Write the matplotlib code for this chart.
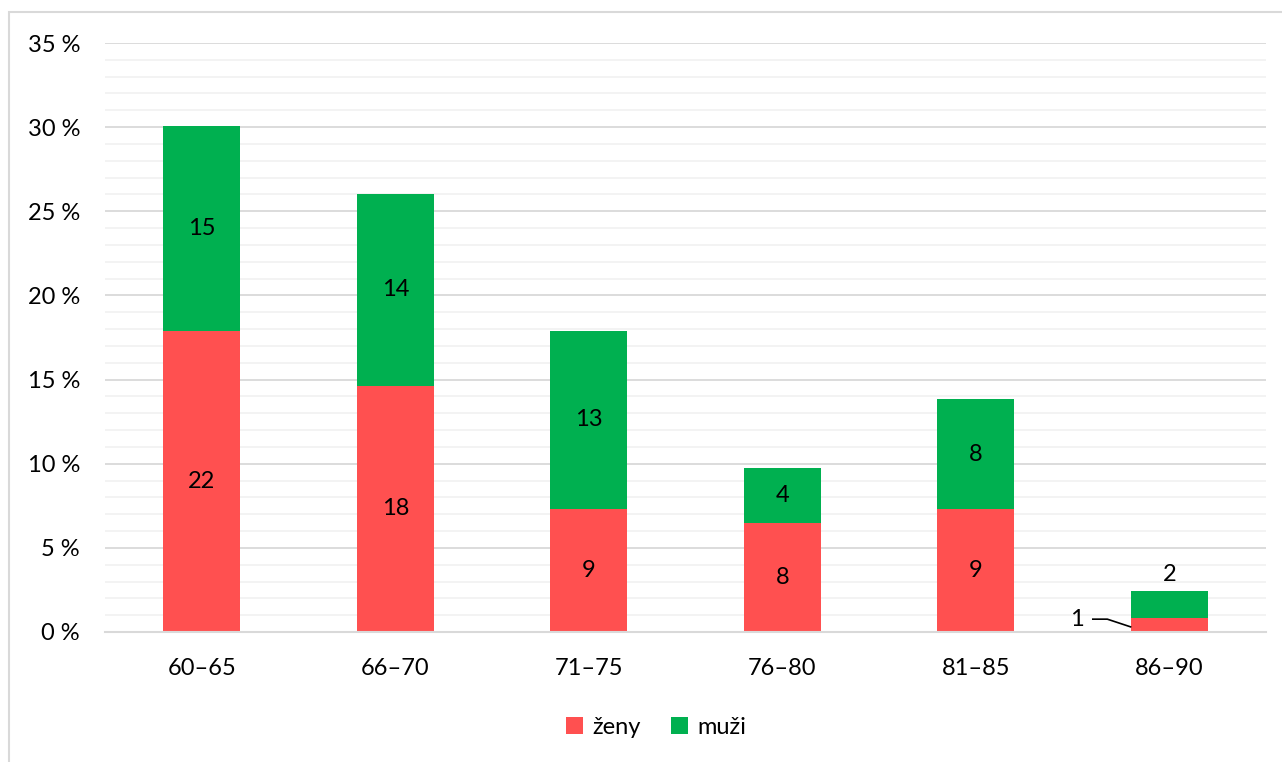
import matplotlib
matplotlib.use("Agg")
import matplotlib.pyplot as plt
from matplotlib.ticker import MultipleLocator, FuncFormatter
from matplotlib.patches import Rectangle
import numpy as np

plt.rcParams['font.family'] = ['Lato', 'DejaVu Sans']

categories = ["60–65", "66–70", "71–75", "76–80", "81–85", "86–90"]
zeny = [22, 18, 9, 8, 9, 1]
muzi = [15, 14, 13, 4, 8, 2]
series_names = ["ženy", "muži"]

total = sum(zeny) + sum(muzi)
zeny_pct = [v / total * 100 for v in zeny]
muzi_pct = [v / total * 100 for v in muzi]

RED = "#FF5050"
GREEN = "#00B050"
FS = 17

fig = plt.figure(figsize=(12.82, 7.62), dpi=100)
# outer chart frame
fig.patches.append(Rectangle((9 / 1282, -0.1), 1.2, 1.1 - 12 / 762,
                             transform=fig.transFigure, fill=False,
                             edgecolor="#D9D9D9", linewidth=1.5))

ax = fig.add_axes([105 / 1282, 1 - 632 / 762, (1266 - 105) / 1282, (632 - 43) / 762])

x = np.arange(len(categories))
w = 0.40
ax.bar(x, zeny_pct, width=w, color=RED, label=series_names[0], zorder=3)
ax.bar(x, muzi_pct, width=w, bottom=zeny_pct, color=GREEN, label=series_names[1], zorder=3)

ax.set_xlim(-0.5, len(categories) - 0.5)
ax.set_ylim(0, 35)
ax.yaxis.set_major_locator(MultipleLocator(5))
ax.yaxis.set_minor_locator(MultipleLocator(1))
ax.yaxis.set_major_formatter(FuncFormatter(lambda v, p: f"{v:.0f} %"))
ax.grid(axis="y", which="major", color="#D9D9D9", linewidth=1.3, zorder=0)
ax.grid(axis="y", which="minor", color="#F2F2F2", linewidth=1.3, zorder=0)
ax.set_axisbelow(True)

for s in ["top", "right", "left"]:
    ax.spines[s].set_visible(False)
ax.spines["bottom"].set_color("#D9D9D9")
ax.spines["bottom"].set_linewidth(1.5)
ax.spines["bottom"].set_zorder(4)

ax.tick_params(axis="both", which="both", length=0, labelsize=FS, colors="black")
ax.tick_params(axis="y", pad=18)
ax.tick_params(axis="x", pad=19)
ax.set_xticks(x)
ax.set_xticklabels(categories)

# value labels inside the segments
for i in range(len(categories) - 1):
    ax.text(x[i], zeny_pct[i] / 2, str(zeny[i]), ha="center", va="center", fontsize=FS, zorder=5)
    ax.text(x[i], zeny_pct[i] + muzi_pct[i] / 2, str(muzi[i]), ha="center", va="center", fontsize=FS, zorder=5)

# last group: segments too small, labels placed outside
i = len(categories) - 1
ax.text(x[i], zeny_pct[i] + muzi_pct[i] + 0.95, str(muzi[i]), ha="center", va="center", fontsize=FS, zorder=5)
ax.text(x[i] - 0.475, zeny_pct[i] - 0.05, str(zeny[i]), ha="center", va="center", fontsize=FS, zorder=5)
ax.plot([x[i] - 0.395, x[i] - 0.32, x[i] - w / 2],
        [zeny_pct[i] - 0.05, zeny_pct[i] - 0.05, zeny_pct[i] / 2 - 0.1],
        color="black", linewidth=1.2, zorder=5, clip_on=False)

leg = fig.legend(loc="center", bbox_to_anchor=(656 / 1282, 1 - 727 / 762), ncol=2,
                 frameon=False, fontsize=FS, handlelength=0.7, handleheight=0.7,
                 handletextpad=0.4, columnspacing=1.3)

fig.savefig("out.png", dpi=100)
